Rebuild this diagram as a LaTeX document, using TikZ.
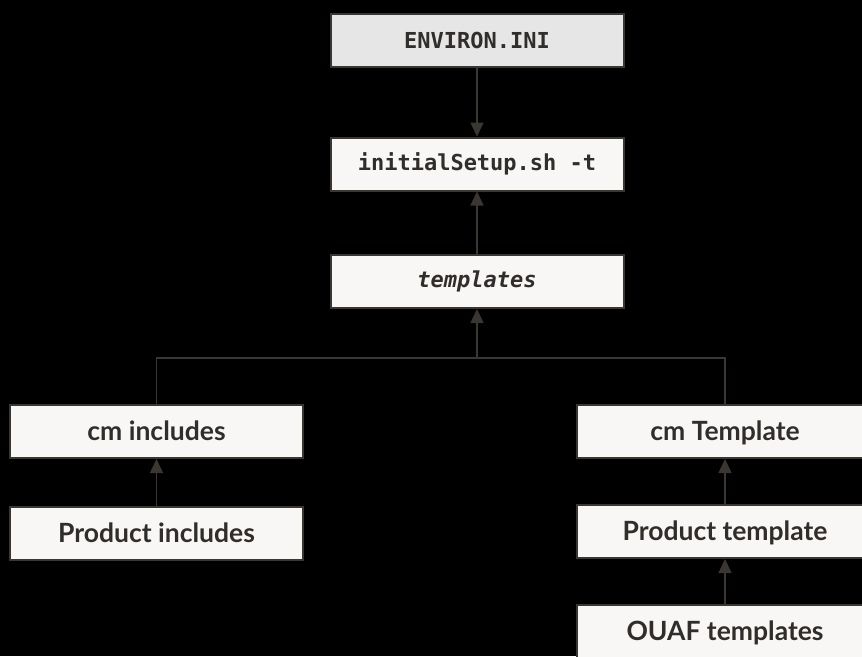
\documentclass[tikz,border=0pt]{standalone}
\usepackage{fontspec}
\usepackage{xcolor}
\setmainfont{Lato}
\newfontfamily\codefont{DejaVu Sans Mono}
\usetikzlibrary{shapes}
\usetikzlibrary{positioning}
\usetikzlibrary{arrows.meta}

\definecolor{box_fill}{HTML}{F8F7F5}
\definecolor{env_fill}{HTML}{E6E6E6}
\definecolor{box_line}{HTML}{3A3632}
\definecolor{box_text}{HTML}{312D2A}

\begin{document}
\begin{tikzpicture}[x=1pt, y=-1pt,
    file_box/.style={rectangle, draw=box_line, line width=2pt, fill=box_fill, text=box_text, minimum width=293pt, minimum height=53pt, inner sep=0pt},
    code_text/.style={font=\codefont\bfseries\fontsize{22}{26}\selectfont},
    name_text/.style={font=\bfseries\fontsize{26.5}{31}\selectfont, text height=20pt, text depth=3pt},
    link/.style={draw=box_line, line width=1.5pt, -{Triangle[width=13pt, length=14pt]}},
    join_line/.style={draw=box_line, line width=1.5pt}]

    \fill[black] (0,0) rectangle (862,656);
    \useasboundingbox (0,0) rectangle (862,656);

    \node (env_ini) [file_box, code_text, fill=env_fill] at (477,40.5) {ENVIRON.INI};
    \node (initial_setup) [file_box, code_text] at (477,164) {initialSetup.sh -t};
    \node (templates) [file_box, code_text] at (477,281.5) {\itshape templates};

    \node (cm_includes) [file_box, name_text] at (156.5,431.5) {cm includes};
    \node (product_includes) [file_box, name_text] at (156.5,533.5) {Product includes};

    \node (cm_template) [file_box, name_text, minimum width=296pt] at (725,431.5) {cm Template};
    \node (product_template) [file_box, name_text, minimum width=296pt] at (725,531.5) {Product template};
    \node (ouaf_templates) [file_box, name_text, minimum width=296pt] at (725,631.5) {OUAF templates};

    \coordinate (join_point) at (477,358);

    \draw[link] (env_ini) -- (initial_setup);
    \draw[link] (templates) -- (initial_setup);
    \draw[link] (join_point) -- (templates);
    \draw[join_line] (cm_includes) |- (join_point) -| (cm_template);

    \draw[link] (product_includes) -- (cm_includes);
    \draw[link] (product_template) -- (cm_template);
    \draw[link] (ouaf_templates) -- (product_template);

\end{tikzpicture}
\end{document}
